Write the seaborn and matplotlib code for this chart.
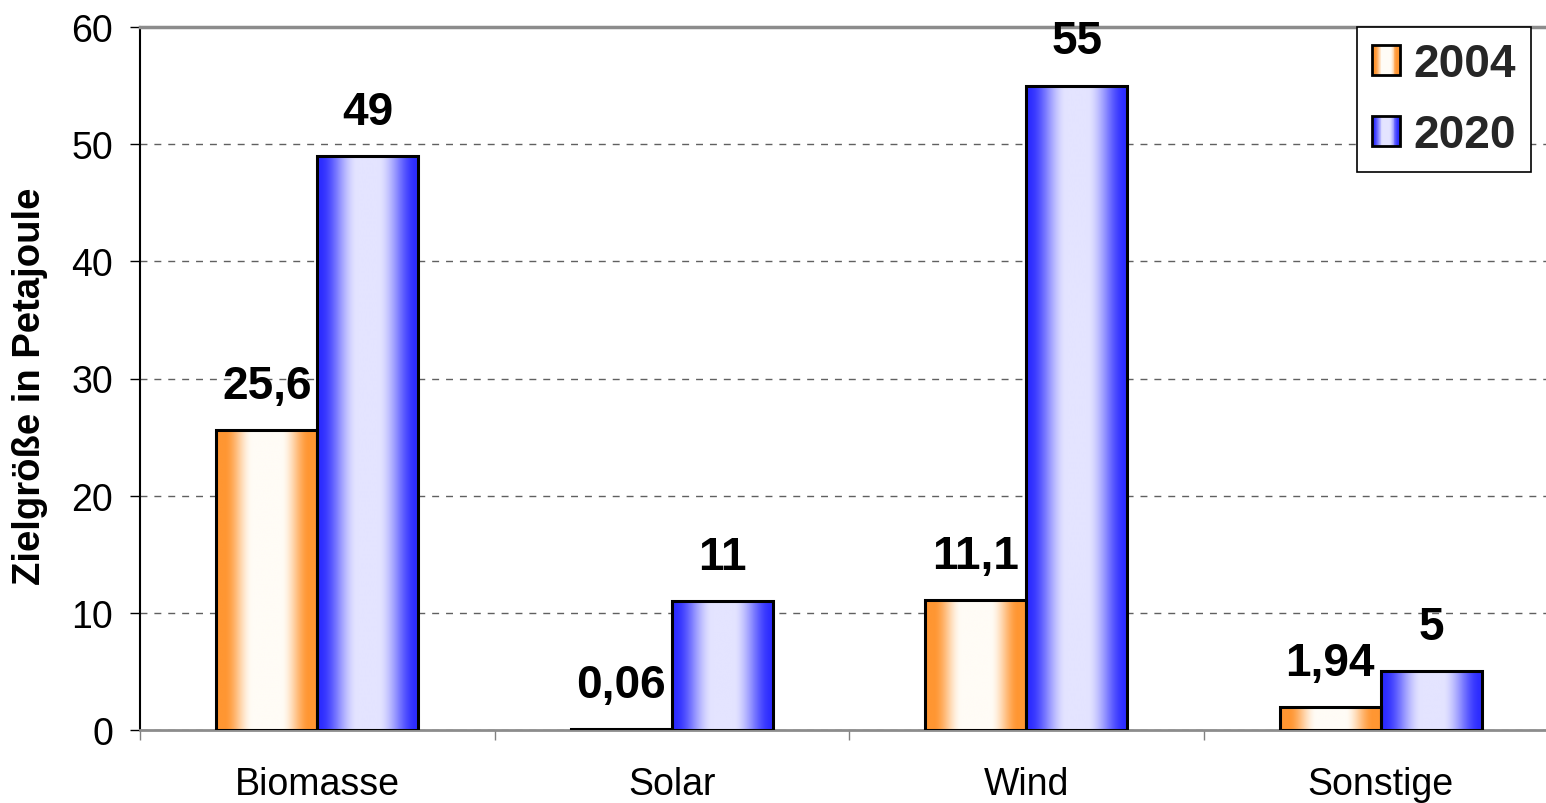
import numpy as np
import pandas as pd
import matplotlib
matplotlib.use("Agg")
import matplotlib.pyplot as plt
import seaborn as sns
from matplotlib.patches import Rectangle
from matplotlib.legend_handler import HandlerBase
from matplotlib.ticker import FixedLocator

# ---- data ----
categories = ["Biomasse", "Solar", "Wind", "Sonstige"]
years = ["2004", "2020"]
values_2004 = [25.6, 0.06, 11.1, 1.94]
values_2020 = [49, 11, 55, 5]
labels_2004 = ["25,6", "0,06", "11,1", "1,94"]
labels_2020 = ["49", "11", "55", "5"]
y_ticks = [0, 10, 20, 30, 40, 50, 60]
y_label = "Zielgröße in Petajoule"

df = pd.DataFrame({
    "Kategorie": categories * 2,
    "Jahr": [years[0]] * 4 + [years[1]] * 4,
    "Wert": values_2004 + values_2020,
})

# ---- style ----
sns.set_theme(style="white")
plt.rcParams["font.family"] = ["Liberation Sans", "DejaVu Sans"]

edge_cols = {"2004": np.array([255, 150, 50]) / 255, "2020": np.array([45, 45, 255]) / 255}
center_cols = {"2004": np.array([255, 252, 246]) / 255, "2020": np.array([228, 228, 255]) / 255}
ramps = {"2004": (0.08, 0.36), "2020": (0.02, 0.40)}


def grad_colors(yr, n):
    edge, center = edge_cols[yr], center_cols[yr]
    a, b = ramps[yr]
    u = np.linspace(0, 1, n)
    d = np.minimum(u, 1 - u)
    t = np.clip((d - a) / (b - a), 0, 1)
    t = t * t * (3 - 2 * t)
    return edge[None, :] + (center - edge)[None, :] * t[:, None]


fig = plt.figure(figsize=(15.46, 8.04), dpi=100)
ax = fig.add_axes([140 / 1546, 1 - 731 / 804, 1418 / 1546, 703 / 804])

sns.barplot(data=df, x="Kategorie", y="Wert", hue="Jahr", hue_order=years,
            palette={"2004": edge_cols["2004"], "2020": edge_cols["2020"]},
            width=0.57, saturation=1, edgecolor="black", linewidth=2.2,
            legend=False, ax=ax, zorder=3)

# gradient fills
for cont, yr, labs in zip(ax.containers, years, [labels_2004, labels_2020]):
    for p in cont.patches:
        x0, w, h = p.get_x(), p.get_width(), p.get_height()
        img = grad_colors(yr, 200)[None, :, :]
        ax.imshow(img, extent=[x0, x0 + w, 0, h], aspect="auto",
                  interpolation="bilinear", zorder=2.9, origin="lower")
        p.set_facecolor("none")
        p.set_zorder(3)
    ax.bar_label(cont, labels=labs, padding=16, fontsize=33,
                 fontweight="bold", color="black")

ax.set_xlim(-0.5, 3.5)
ax.set_ylim(0, 60)
ax.yaxis.set_major_locator(FixedLocator(y_ticks))
ax.set_yticklabels([str(v) for v in y_ticks], fontsize=27)
ax.set_xticks(range(len(categories)))
ax.set_xticklabels(categories, fontsize=27)
ax.xaxis.set_minor_locator(FixedLocator([-0.5, 0.5, 1.5, 2.5, 3.5]))

ax.tick_params(axis="y", which="major", direction="out", length=7.5, width=1,
               color="black", pad=12, left=True, labelcolor="black")
ax.tick_params(axis="x", which="major", length=0, pad=26, labelcolor="black")
ax.tick_params(axis="x", which="minor", direction="out", length=7.5, width=1,
               color="#808080", bottom=True)

ax.set_xlabel("")
ax.set_ylabel(y_label, fontsize=27.5, fontweight="bold", color="black")
ax.yaxis.set_label_coords(-0.065, 0.49)

ax.set_axisbelow(True)
ax.yaxis.grid(True, linestyle=(0, (5, 5)), color="#606060", linewidth=1)
ax.xaxis.grid(False)

ax.spines["right"].set_visible(False)
ax.spines["top"].set_color("#8c8c8c")
ax.spines["top"].set_linewidth(2.5)
ax.spines["bottom"].set_color("#8c8c8c")
ax.spines["bottom"].set_linewidth(2)
ax.spines["left"].set_color("black")
ax.spines["left"].set_linewidth(1.5)
ax.set_facecolor("white")


class GradHandler(HandlerBase):
    def __init__(self, yr):
        super().__init__()
        self.yr = yr

    def create_artists(self, legend, orig_handle, xdescent, ydescent, width,
                       height, fontsize, trans):
        n = 30
        cols = grad_colors(self.yr, n)
        arts = []
        for i in range(n):
            arts.append(Rectangle((-xdescent + width * i / n, -ydescent),
                                  width / n * 1.05, height, facecolor=cols[i],
                                  edgecolor="none", transform=trans))
        arts.append(Rectangle((-xdescent, -ydescent), width, height,
                              facecolor="none", edgecolor="black", lw=2,
                              transform=trans))
        return arts


h1 = Rectangle((0, 0), 1, 1)
h2 = Rectangle((0, 0), 1, 1)
leg = ax.legend([h1, h2], years, handler_map={h1: GradHandler("2004"), h2: GradHandler("2020")},
                loc="upper right", bbox_to_anchor=(1531 / 1546, 1 - 28 / 804),
                bbox_transform=fig.transFigure, borderaxespad=0,
                prop={"size": 33, "weight": "bold"}, handlelength=0.61,
                handleheight=0.63, handletextpad=0.3, borderpad=0.32,
                labelspacing=0.6, fancybox=False, framealpha=1,
                edgecolor="black", facecolor="white")
leg.get_frame().set_linewidth(1.2)
leg.set_zorder(10)

fig.savefig("out.png", dpi=100)
